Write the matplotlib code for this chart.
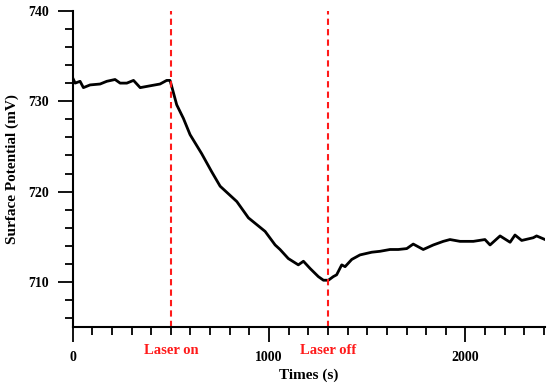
import matplotlib.pyplot as plt
from matplotlib.ticker import MultipleLocator

plt.rcParams['font.family'] = ['Liberation Serif', 'DejaVu Serif']

# trace
time_s = [0, 13, 38, 55, 89, 140, 174, 216, 242, 276, 310, 344, 394, 445, 479, 496,
          505, 530, 564, 598, 657, 708, 751, 836, 895, 980, 1031, 1056, 1098, 1149,
          1175, 1209, 1251, 1277, 1302, 1327, 1344, 1370, 1387, 1421, 1463, 1523,
          1565, 1616, 1658, 1701, 1734, 1785, 1836, 1887, 1921, 1972, 2040, 2099,
          2125, 2176, 2227, 2252, 2286, 2345, 2362, 2405]
potential = [732.6, 732.0, 732.2, 731.5, 731.8, 731.9, 732.2, 732.4, 732.0, 732.0,
             732.3, 731.5, 731.7, 731.9, 732.3, 732.3,
             731.6, 729.6, 728.1, 726.3, 724.2, 722.2, 720.6, 718.9, 717.1, 715.6,
             714.1, 713.6, 712.6, 711.9,
             712.3, 711.5, 710.6, 710.2, 710.2, 710.6, 710.8, 711.9, 711.7, 712.5,
             713.0, 713.3,
             713.4, 713.6, 713.6, 713.7, 714.2, 713.6, 714.1, 714.5, 714.7, 714.5,
             714.5, 714.7,
             714.1, 715.1, 714.4, 715.2, 714.6, 714.9, 715.1, 714.7]

events = [500, 1300]
event_labels = ['Laser on', 'Laser off']

fig = plt.figure(figsize=(5.5, 3.85), dpi=100)
ax = fig.add_axes([0.132, 0.150, 0.859, 0.822])

ax.plot(time_s, potential, color='black', linewidth=2)
for x in events:
    ax.axvline(x, color='#ff1a1a', linestyle=(0, (3, 2)), linewidth=1.5)

ax.set_xlim(0, 2405)
ax.set_ylim(705, 740)
ax.xaxis.set_major_locator(MultipleLocator(1000))
ax.xaxis.set_minor_locator(MultipleLocator(100))
ax.yaxis.set_major_locator(MultipleLocator(10))
ax.yaxis.set_minor_locator(MultipleLocator(2))

for s in ['top', 'right']:
    ax.spines[s].set_visible(False)
for s in ['left', 'bottom']:
    ax.spines[s].set_linewidth(1.5)
ax.tick_params(which='major', length=11, width=1.3, labelsize=10, pad=6)
ax.tick_params(which='minor', length=6, width=1.3)
for lab in ax.get_xticklabels() + ax.get_yticklabels():
    lab.set_fontweight('semibold')

for x, lab in zip(events, event_labels):
    ax.text(x, -0.072, lab, color='#ff1a1a', fontsize=10.5, fontweight='bold',
            ha='center', va='center', transform=ax.get_xaxis_transform())

ax.set_xlabel('Times (s)', fontsize=11, fontweight='bold')
ax.set_ylabel('Surface Potential (mV)', fontsize=11, fontweight='bold')
ax.xaxis.set_label_coords(0.5, -0.151)
ax.yaxis.set_label_coords(-0.127, 0.5)
ax.xaxis.label.set_va('center')
ax.yaxis.label.set_va('center')

fig.savefig('out.png', dpi=100)
